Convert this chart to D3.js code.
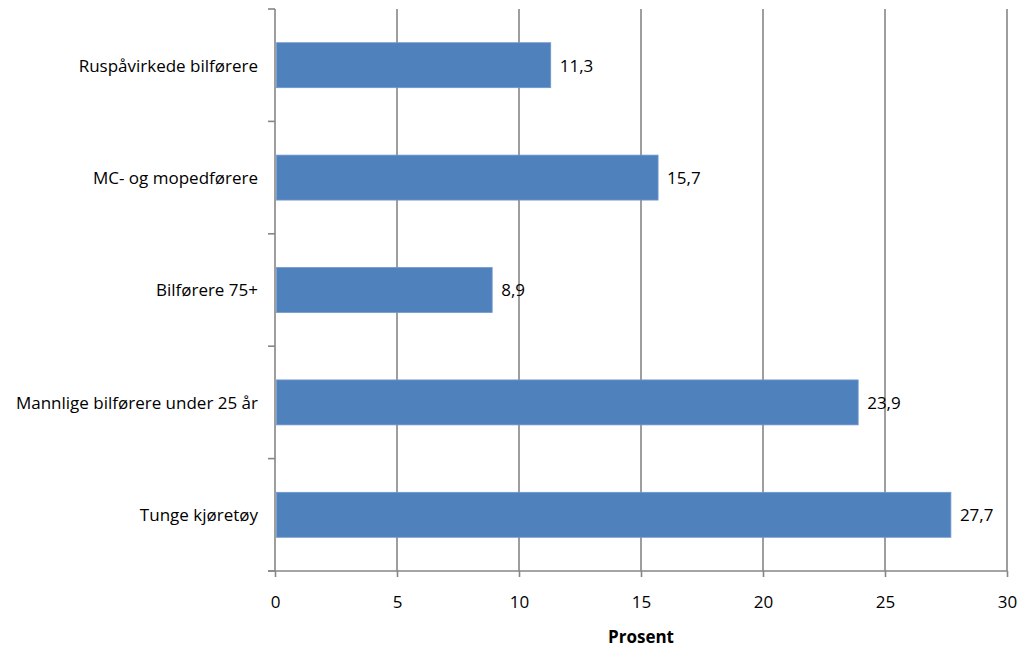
<!DOCTYPE html>
<html>
<head>
<meta charset="utf-8">
<script src="https://cdn.jsdelivr.net/npm/d3@7"></script>
<style>
  body { margin: 0; background: #fff; }
  text { font-family: "Open Sans", Lato, sans-serif; fill: #000; }
</style>
</head>
<body>
<svg id="chart" width="1019" height="648"></svg>
<script>
// Share of fatalities per driver group (percent)
const categories = [
  "Ruspåvirkede bilførere",
  "MC- og mopedførere",
  "Bilførere 75+",
  "Mannlige bilførere under 25 år",
  "Tunge kjøretøy"
];
const values = [11.3, 15.7, 8.9, 23.9, 27.7];
const valueLabels = ["11,3", "15,7", "8,9", "23,9", "27,7"];
const xTicks = [0, 5, 10, 15, 20, 25, 30];
const xTitle = "Prosent";

const svg = d3.select("#chart");
const plot = { left: 275, right: 1007, top: 9, bottom: 571 };
const axisColor = "#868686";
const fontSize = 17;

const x = d3.scaleLinear().domain([0, 30]).range([plot.left, plot.right]);
const y = d3.scaleBand().domain(categories).range([plot.top, plot.bottom])
  .paddingInner(0.6).paddingOuter(0.3);

// vertical gridlines
svg.append("g").selectAll("line")
  .data(xTicks.filter(d => d > 0))
  .join("line")
  .attr("x1", d => x(d)).attr("x2", d => x(d))
  .attr("y1", plot.top).attr("y2", plot.bottom)
  .attr("stroke", axisColor).attr("stroke-width", 1.6);

// bars
svg.append("g").selectAll("rect")
  .data(values)
  .join("rect")
  .attr("x", x(0) + 1.5)
  .attr("y", (d, i) => y(categories[i]))
  .attr("width", d => x(d) - x(0) - 1.5)
  .attr("height", y.bandwidth())
  .attr("fill", "#4F81BD")
  .attr("stroke", "#6f98cc")
  .attr("stroke-width", 0.8);

// value labels
svg.append("g").selectAll("text")
  .data(values)
  .join("text")
  .attr("x", d => x(d) + 9)
  .attr("y", (d, i) => y(categories[i]) + y.bandwidth() / 2)
  .attr("dy", "0.38em")
  .attr("font-size", fontSize)
  .text((d, i) => valueLabels[i]);

// y axis: line + ticks at category boundaries
const yAxis = svg.append("g");
yAxis.append("line")
  .attr("x1", plot.left).attr("x2", plot.left)
  .attr("y1", plot.top).attr("y2", plot.bottom)
  .attr("stroke", axisColor).attr("stroke-width", 1.6);
const boundaries = d3.range(categories.length + 1).map(i => plot.top + i * (plot.bottom - plot.top) / categories.length);
yAxis.selectAll(".tick").data(boundaries).join("line")
  .attr("x1", plot.left - 7).attr("x2", plot.left)
  .attr("y1", d => d).attr("y2", d => d)
  .attr("stroke", axisColor).attr("stroke-width", 1.6);
yAxis.selectAll("text").data(categories).join("text")
  .attr("x", plot.left - 17)
  .attr("y", d => y(d) + y.bandwidth() / 2)
  .attr("dy", "0.38em")
  .attr("text-anchor", "end")
  .attr("font-size", fontSize)
  .text(d => d);

// x axis
const xAxis = svg.append("g").attr("transform", `translate(0,${plot.bottom})`)
  .call(d3.axisBottom(x).tickValues(xTicks).tickSize(6).tickPadding(19).tickFormat(d3.format("d")));
xAxis.select(".domain").attr("d", `M${plot.left - 7},0H${plot.right}`)
  .attr("stroke", axisColor).attr("stroke-width", 1.6);
xAxis.selectAll(".tick line").attr("stroke", axisColor).attr("stroke-width", 1.6);
xAxis.selectAll(".tick text").attr("font-size", fontSize).attr("font-family", "'Open Sans', sans-serif").attr("fill", "#000");

svg.append("text")
  .attr("x", (plot.left + plot.right) / 2)
  .attr("y", 643)
  .attr("text-anchor", "middle")
  .attr("font-size", fontSize)
  .attr("font-weight", "bold")
  .text(xTitle);
</script>
</body>
</html>
